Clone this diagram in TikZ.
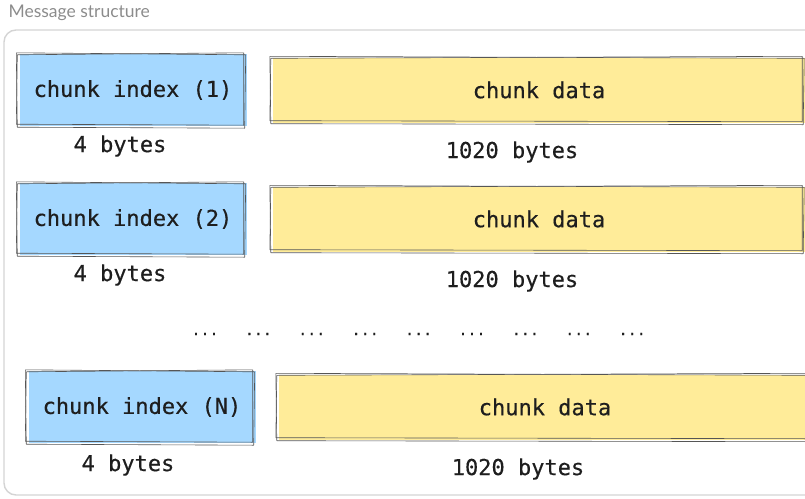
\documentclass[tikz,border=0pt]{standalone}
\usepackage{fontspec}
\setmonofont[FakeBold=0.4]{DejaVu Sans Mono}
\setsansfont{Lato}
\usetikzlibrary{calc}

\definecolor{inkgray}{HTML}{1E1E1E}
\definecolor{idxblue}{HTML}{A5D8FF}
\definecolor{datayellow}{HTML}{FFEC99}
\definecolor{framegray}{HTML}{D4D4D4}

\tikzset{
  fieldbox/.style={inner sep=0pt, text=inkgray, font=\ttfamily\fontsize{22}{24}\selectfont},
  indexbox/.style={fieldbox, fill=idxblue, minimum width=227pt, minimum height=72pt},
  databox/.style={fieldbox, fill=datayellow, minimum width=532pt, minimum height=65pt},
  sizelabel/.style={text=inkgray, font=\ttfamily\fontsize{22}{24}\selectfont},
  dotslabel/.style={text=inkgray, font=\ttfamily\fontsize{15}{17}\selectfont},
  roughline/.style={draw=inkgray!75, line width=0.6pt, line join=round}
}

% two slightly shifted outlines, hand drawn look
\newcommand{\roughrect}[1]{%
  \draw[roughline] ($(#1.north west)+(-3,-1)$) -- ($(#1.north east)+(-1,1)$)
    -- ($(#1.south east)+(-2,2)$) -- ($(#1.south west)+(-2,1)$) -- cycle;
  \draw[roughline] ($(#1.north west)+(-2,1)$) -- ($(#1.north east)+(-3,-1)$)
    -- ($(#1.south east)+(-3,-1)$) -- ($(#1.south west)+(-3,-2)$) -- cycle;
}

\begin{document}
\begin{tikzpicture}[x=1pt, y=-1pt]
\useasboundingbox (0,0) rectangle (805,498);

% frame and title
\draw[framegray, line width=1.4pt, rounded corners=12pt] (4,30) rectangle (840,495);
\node[anchor=west, text=gray!90, font=\sffamily\fontsize{17.5}{20}\selectfont] (title) at (5,13) {Message structure};

% first chunk
\node[indexbox] (idx1) at (133,90) {chunk index (1)};
\node[databox] (dat1) at (539,90) {chunk data};
\node[sizelabel] (isz1) at (120,146) {4 bytes};
\node[sizelabel] (dsz1) at (512,152) {1020 bytes};

% second chunk
\node[indexbox] (idx2) at (133,219) {chunk index (2)};
\node[databox] (dat2) at (539,219) {chunk data};
\node[sizelabel] (isz2) at (120,275) {4 bytes};
\node[sizelabel] (dsz2) at (512,281) {1020 bytes};

% gap
\foreach \i in {0,...,8}
  \node[dotslabel] (gap\i) at (205+53.4*\i,334) {...};

% last chunk
\node[indexbox] (idxN) at (142,407) {chunk index (N)};
\node[databox] (datN) at (545,407) {chunk data};
\node[sizelabel] (iszN) at (128,465) {4 bytes};
\node[sizelabel] (dszN) at (518,469) {1020 bytes};

\foreach \b in {idx1,dat1,idx2,dat2,idxN,datN}{
  \roughrect{\b}
}
\end{tikzpicture}
\end{document}
